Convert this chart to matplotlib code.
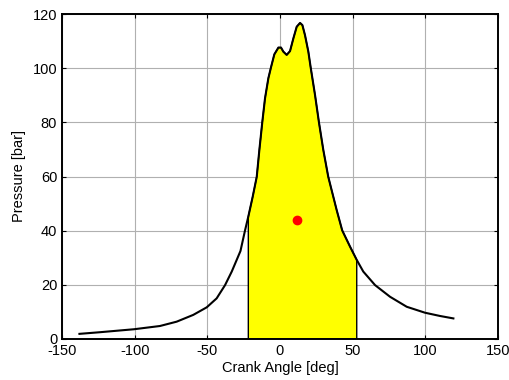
import numpy as np
import matplotlib.pyplot as plt

plt.rcParams['font.family'] = ['Liberation Sans', 'DejaVu Sans']
plt.rcParams['axes.unicode_minus'] = False

# pressure trace (deg, bar)
crank_angle = [-138, -124, -100.5, -82.6, -71.1, -59.7, -50.4, -43.6, -37.8, -33.2,
               -29.8, -27.2, -24.1, -21.8, -18.8, -16.0, -14.2, -12.2, -10.3, -8.0,
               -6.2, -3.9, -1.1, 0.7, 2.3, 4.6, 6.9, 9.2, 11.5, 13.8,
               15.4, 17.2, 19.5, 21.1, 24.1, 26.8, 29.8, 33.2, 39.0, 42.8,
               48.2, 52.8, 57.3, 65.4, 75.7, 87.2, 99.8, 110.1, 119.3]
pressure = [1.9, 2.5, 3.6, 4.8, 6.4, 8.9, 11.7, 15.0, 19.9, 24.9,
            29.2, 32.5, 40.0, 45.2, 52.5, 59.9, 69.8, 80.0, 88.9, 96.3,
            100.3, 105.1, 107.6, 107.6, 106.1, 104.9, 106.3, 111.0, 115.3, 116.7,
            115.9, 112.2, 106.1, 100.3, 90.1, 80.0, 69.8, 59.9, 47.6, 40.1,
            34.1, 29.2, 24.9, 19.9, 15.6, 11.9, 9.7, 8.5, 7.6]

# integration window and centroid marker
win_start = -21.8
win_end = 52.8
centroid = (11.9, 43.9)

x = np.array(crank_angle)
p = np.array(pressure)

fig = plt.figure(figsize=(5.09, 3.80), dpi=100)
ax = fig.add_axes([62/509, 41/380, 436/509, 325/380])

# shaded area under the curve
m = (x >= win_start) & (x <= win_end)
fx = np.concatenate([[win_start], x[m], [win_end]])
fy = np.concatenate([[0], p[m], [0]])
ax.fill(fx, fy, facecolor='#ffff00', edgecolor='black', lw=1.0, zorder=2)

ax.plot(x, p, color='black', lw=1.5, zorder=3, solid_joinstyle='round')
ax.plot(*centroid, 'o', color='red', ms=6, zorder=4)

ax.set_xlim(-150, 150)
ax.set_ylim(0, 120)
ax.set_xticks(np.arange(-150, 151, 50))
ax.set_yticks(np.arange(0, 121, 20))
ax.grid(True, color='#b0b0b0', lw=0.8)
ax.set_axisbelow(True)
ax.tick_params(direction='in', top=True, right=True, labelsize=10.5, length=3, width=0.8)
for s in ax.spines.values():
    s.set_linewidth(1.4)
ax.set_xlabel('Crank Angle [deg]', fontsize=10.5, labelpad=2)
ax.set_ylabel('Pressure [bar]', fontsize=10.5, labelpad=5)

fig.savefig('out.png', dpi=100)
